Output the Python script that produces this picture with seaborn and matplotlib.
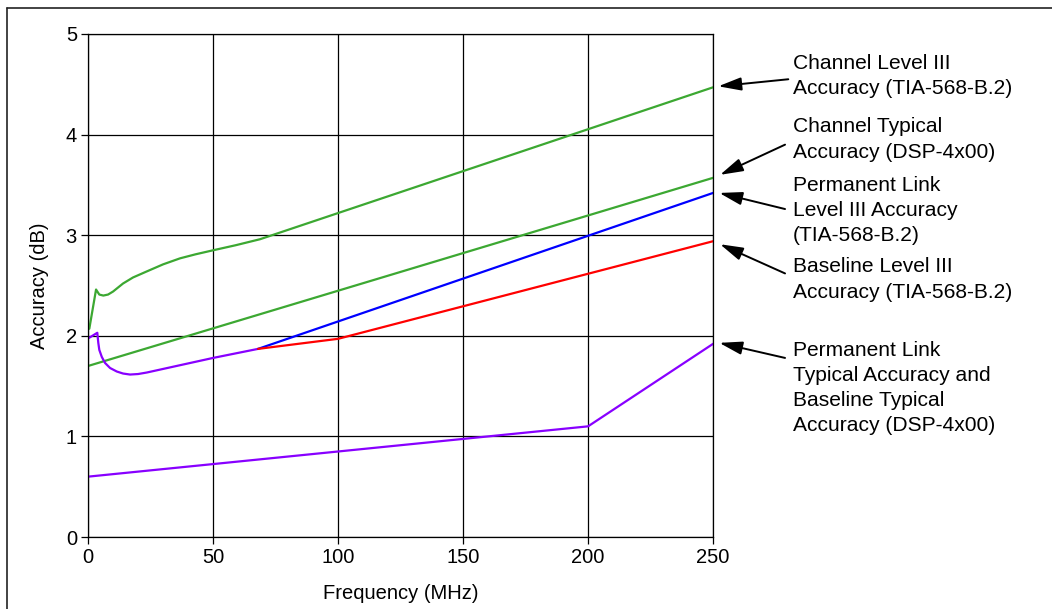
import pandas as pd
import matplotlib.pyplot as plt
import seaborn as sns
from matplotlib.lines import Line2D

# Datos (frecuencia en MHz, precision en dB)
freq_ch_l3 = [0.5, 3.2, 4.5, 6.1, 8, 10, 14, 18, 23.5, 30, 36.8, 43, 50, 59, 68.8, 250]
acc_ch_l3 = [2.07, 2.46, 2.41, 2.40, 2.41, 2.44, 2.52, 2.58, 2.64, 2.71, 2.77, 2.81, 2.85, 2.90, 2.96, 4.47]

freq_ch_typ = [0, 250]
acc_ch_typ = [1.70, 3.57]

freq_low = [0.1, 3.7, 4.1, 4.5, 5.5, 6.8, 8.8, 11.5, 14, 16.8, 20, 23.5, 50, 68]
acc_low = [1.975, 2.03, 1.93, 1.86, 1.79, 1.73, 1.68, 1.645, 1.625, 1.615, 1.62, 1.635, 1.78, 1.87]

freq_pl_l3 = [68, 250]
acc_pl_l3 = [1.87, 3.42]

freq_bl_l3 = [68, 100, 250]
acc_bl_l3 = [1.87, 1.97, 2.94]

freq_typ = [0, 200, 250]
acc_typ = [0.60, 1.10, 1.92]

labels = [
    "Channel Level III\nAccuracy (TIA-568-B.2)",
    "Channel Typical\nAccuracy (DSP-4x00)",
    "Permanent Link\nLevel III Accuracy\n(TIA-568-B.2)",
    "Baseline Level III\nAccuracy (TIA-568-B.2)",
    "Permanent Link\nTypical Accuracy and\nBaseline Typical\nAccuracy (DSP-4x00)",
]
label_y = [4.584, 3.95, 3.246, 2.56, 1.481]
arrow_head = [(252.1, 4.48), (252.8, 3.60), (252.5, 3.42), (252.8, 2.91), (252.5, 1.93)]
arrow_tail = [(280.1, 4.55), (278.8, 3.90), (278.8, 3.26), (278.8, 2.62), (278.8, 1.78)]

series = [
    (freq_ch_l3, acc_ch_l3, "#3ca832"),
    (freq_ch_typ, acc_ch_typ, "#3ca832"),
    (freq_low, acc_low, "#8800ff"),
    (freq_pl_l3, acc_pl_l3, "#0000ff"),
    (freq_bl_l3, acc_bl_l3, "#ff0000"),
    (freq_typ, acc_typ, "#8800ff"),
]

sns.set_theme(style="white")
plt.rcParams['font.family'] = ['Liberation Sans', 'DejaVu Sans']
plt.rcParams['axes.edgecolor'] = 'black'

fig = plt.figure(figsize=(10.52, 6.09), dpi=100)
ax = fig.add_axes([0.0837, 0.1182, 0.5941, 0.8260])

for f, a, c in series:
    df = pd.DataFrame({"Frequency": f, "Accuracy": a})
    sns.lineplot(data=df, x="Frequency", y="Accuracy", color=c, linewidth=1.6, ax=ax)

ax.set_xlim(0, 250)
ax.set_ylim(0, 5)
ax.set_xticks([0, 50, 100, 150, 200, 250])
ax.set_yticks([0, 1, 2, 3, 4, 5])
ax.grid(True, color='black', linewidth=0.9)
for s in ax.spines.values():
    s.set_color('black')
    s.set_linewidth(0.9)
ax.tick_params(axis='both', which='both', direction='out', length=5, width=0.9,
               color='black', labelsize=14.5, labelcolor='black', pad=3,
               left=True, bottom=True)
ax.set_xlabel("Frequency (MHz)", fontsize=14.5, color='black', labelpad=12)
ax.set_ylabel("Accuracy (dB)", fontsize=14.5, color='black', labelpad=12)

# Etiquetas con flechas a la derecha
for txt, ty, head, tail in zip(labels, label_y, arrow_head, arrow_tail):
    ax.text(282, ty, txt, fontsize=15.1, va='center', ha='left', linespacing=1.42,
            color='black', clip_on=False)
    ax.annotate("", xy=head, xytext=tail, annotation_clip=False,
                arrowprops=dict(arrowstyle='-|>,head_length=0.7,head_width=0.2',
                                color='black', lw=1.4, shrinkA=0, shrinkB=0,
                                mutation_scale=20))

# Marco parcial de la figura (arriba e izquierda)
fig.add_artist(Line2D([7 / 1052, 1], [1 - 8 / 609, 1 - 8 / 609], color='#222222', lw=1.2))
fig.add_artist(Line2D([7 / 1052, 7 / 1052], [0, 1 - 8 / 609], color='#222222', lw=1.2))

plt.savefig("out.png", dpi=100)
